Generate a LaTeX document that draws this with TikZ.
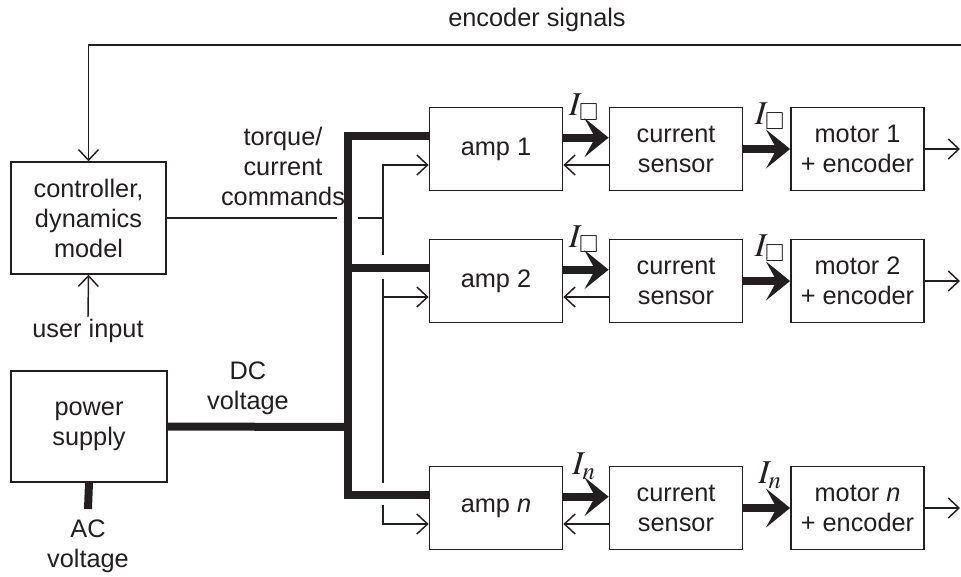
\documentclass[tikz,border=0pt]{standalone}
\usepackage{mathptmx}
\usepackage{amssymb}
\usepackage{fontspec}
\setmainfont{Liberation Sans}
\usetikzlibrary{arrows.meta,positioning}
\definecolor{inkgray}{RGB}{35,31,32}

\begin{document}
\begin{tikzpicture}[x=0.75pt,y=-0.75pt,
  every node/.style={font=\fontsize{19}{22.5}\selectfont, text=inkgray, inner sep=1.5pt},
  blk/.style={draw=inkgray, line width=1.1pt, align=center, minimum width=100pt, minimum height=62pt},
  curlab/.style={font=\fontsize{25}{28}\selectfont},
  sigline/.style={draw=inkgray, line width=1.1pt},
  sigarrow/.style={sigline, -{Straight Barb[length=8pt,width=15pt]}},
  powerline/.style={draw=inkgray, line width=6pt},
  powerarrow/.style={powerline, -{Stealth[length=18pt,width=29pt,inset=8pt]}}]
\useasboundingbox (0,0) rectangle (961,576);

% controller and power supply
\node[blk, minimum width=116pt, minimum height=84pt] (ctrl) at (88.5,218) {controller,\\dynamics\\model};
\node[blk, minimum width=117pt, minimum height=83pt] (psu) at (89,426.5) {power\\supply};
\node (usr) at (88,331) {user input};
\node[align=center] (ac) at (88,546) {AC\\voltage};
\node[align=center] (dclab) at (248,388) {DC\\voltage};
\node[align=center] (cmdlab) at (283,166) {torque/\\current\\commands};
\node (enclab) at (537,20) {encoder signals};

% amp / sensor / motor rows
\foreach \r/\yy/\num/\sub in {1/149/1/\square, 2/281/2/\square, n/508/\textit{n}/n}{
  \node[blk] (amp\r) at (496,\yy) {amp \num};
  \node[blk] (sens\r) at (676,\yy) {current\\sensor};
  \node[blk] (mot\r) at (857.5,\yy) {motor \num\\+ encoder};
  \coordinate (pin\r) at ([yshift=9.5pt]amp\r.west);
  \coordinate (cin\r) at ([yshift=-12pt]amp\r.west);
  \coordinate (out\r) at (960,\yy);
  \draw[powerarrow] ([yshift=8.5pt]amp\r.east) -- ([yshift=8.5pt]sens\r.west);
  \draw[sigarrow] ([yshift=-12pt]sens\r.west) -- ([yshift=-12pt]amp\r.east);
  \draw[powerarrow] (sens\r) -- (mot\r);
  \draw[sigarrow] (mot\r) -- (out\r);
  \node[curlab] (ia\r) at (584,\yy-42) {$I_{\sub}$};
  \node[curlab] (ib\r) at (770,\yy-33) {$I_{\sub}$};
}

% power bus
\coordinate (busdc) at (348,427);
\coordinate (acin) at (88,509);
\draw[powerline] (psu.south) -- (acin);
\draw[powerline] (psu.east) -- (busdc);
\draw[powerline, line join=miter] (pin1) -| (busdc) |- (pinn);
\draw[powerline] (pin2 -| busdc) -- (pin2);

% command lines
\coordinate (gapL) at (337,218);
\coordinate (gapR) at (358,218);
\coordinate (cmdsplit) at (383,218);
\draw[sigline] (ctrl.east) -- (gapL);
\draw[sigline] (gapR) -- (cmdsplit);
\draw[sigarrow] (cmdsplit) |- (cin1);
\draw[sigline] (cmdsplit) -- (383,255);
\draw[sigarrow] (383,279) |- (cin2);
\draw[sigline] (cin2 -| cmdsplit) -- (383,483);
\draw[sigarrow] (383,505) |- (cinn);

% encoder feedback and user input
\coordinate (enc) at (961,45);
\draw[sigarrow] (enc) -| (ctrl.north);
\draw[sigarrow] (usr.north) -- (ctrl.south);
\end{tikzpicture}
\end{document}
